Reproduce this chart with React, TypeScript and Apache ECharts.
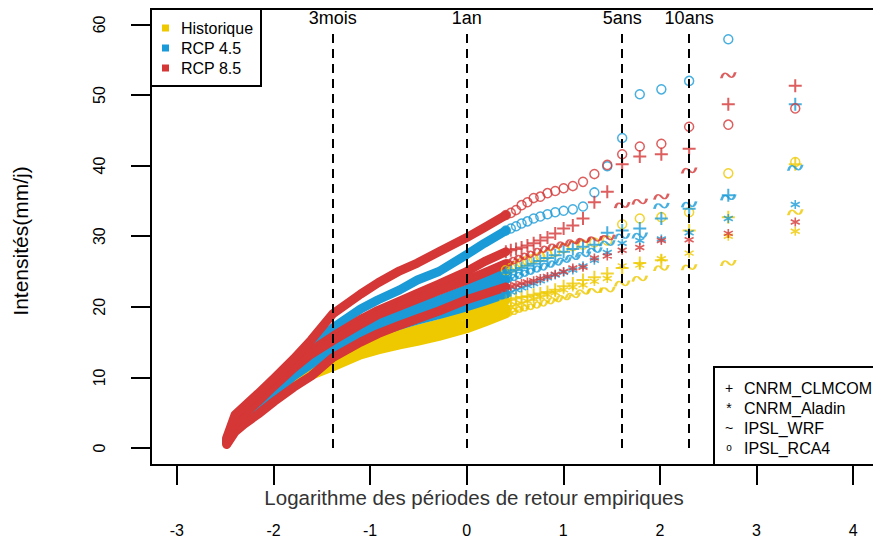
import React, { useEffect, useRef } from "react";
import * as echarts from "echarts";

// ---- data ----
const N_YEARS = 30; // empirical return period T = N_YEARS / rank
const TOP_RANKS = [1, 2, 3, 4, 5, 6, 7, 8, 9, 10, 11, 12, 13, 14, 15, 16, 17, 18, 19, 20];
const BAND_RANKS = [20, 25, 30, 40, 50, 60, 75, 90, 120, 150, 180, 220, 260, 300, 330, 360];

const SCENARIOS = ["Historique", "RCP 4.5", "RCP 8.5"];
const MODELS = ["CNRM_CLMCOM", "CNRM_Aladin", "IPSL_WRF", "IPSL_RCA4"];
const MODEL_CHARS = ["+", "*", "~", "o"];

// Historique
const histClmcomTop = [40.2, 32.7, 30.8, 26.6, 26.2, 25.5, 24.7, 24.2, 23.8, 23.3, 22.9, 22.4, 22.1, 21.9, 21.7, 21.5, 21.4, 21.2, 21.0, 20.9];
const histClmcomBand = [20.9, 19.8, 18.9, 17.6, 16.8, 16.1, 15.1, 14.2, 12.6, 11.1, 9.6, 7.4, 5.6, 4.0, 2.8, 0.7];
const histAladinTop = [30.7, 30.0, 27.6, 26.8, 25.9, 25.8, 24.0, 23.6, 23.1, 22.8, 22.4, 22.0, 21.7, 21.4, 21.1, 20.8, 20.5, 20.3, 20.0, 19.8];
const histAladinBand = [19.8, 18.6, 17.6, 16.6, 15.9, 15.3, 14.5, 13.8, 12.2, 10.8, 9.4, 7.3, 5.5, 3.9, 2.7, 0.6];
const histWrfTop = [33.4, 26.2, 25.6, 25.5, 24.0, 23.3, 22.4, 22.3, 22.1, 21.6, 21.3, 21.0, 20.7, 20.4, 20.1, 19.9, 19.7, 19.5, 19.2, 19.0];
const histWrfBand = [19.0, 17.8, 16.9, 15.8, 15.1, 14.6, 13.9, 13.2, 11.5, 10.3, 9.0, 7.0, 5.3, 3.8, 2.6, 0.7];
const histRca4Top = [40.5, 38.9, 33.4, 32.7, 32.5, 31.7, 29.4, 29.1, 28.8, 28.6, 28.3, 27.8, 27.4, 27.1, 26.8, 26.5, 26.2, 25.8, 25.5, 25.2];
const histRca4Band = [25.2, 23.8, 22.4, 20.6, 19.4, 18.5, 17.2, 16.0, 14.0, 12.2, 10.5, 8.2, 6.2, 4.5, 3.2, 0.9];

// RCP 4.5
const rcp45ClmcomTop = [48.7, 35.8, 33.9, 32.5, 31.1, 30.8, 30.5, 28.8, 28.5, 28.2, 27.8, 27.3, 26.9, 26.5, 26.1, 25.8, 25.5, 25.2, 25.0, 24.8];
const rcp45ClmcomBand = [24.8, 23.6, 22.5, 21.0, 20.0, 19.1, 17.9, 16.7, 14.8, 12.9, 11.0, 8.6, 6.5, 4.8, 3.5, 1.0];
const rcp45AladinTop = [34.5, 32.5, 30.5, 29.6, 29.4, 29.0, 27.7, 26.6, 25.8, 25.2, 24.9, 24.5, 24.1, 23.7, 23.3, 23.0, 22.7, 22.4, 22.1, 21.8];
const rcp45AladinBand = [21.8, 20.8, 20.0, 18.9, 18.1, 17.4, 16.4, 15.4, 13.6, 11.9, 10.2, 7.9, 6.0, 4.3, 3.0, 0.8];
const rcp45WrfTop = [39.7, 35.5, 34.5, 34.3, 30.1, 30.0, 29.0, 28.0, 27.4, 27.0, 26.6, 26.2, 25.9, 25.5, 25.2, 24.9, 24.6, 24.3, 24.0, 23.8];
const rcp45WrfBand = [23.8, 22.6, 21.6, 20.3, 19.3, 18.5, 17.3, 16.1, 14.2, 12.4, 10.6, 8.2, 6.2, 4.5, 3.2, 0.9];
const rcp45Rca4Top = [null, 57.9, 52.0, 50.8, 50.1, 43.9, 39.9, 36.2, 34.2, 33.8, 33.6, 33.4, 33.1, 32.8, 32.5, 32.1, 31.8, 31.4, 31.1, 30.8];
const rcp45Rca4Band = [30.8, 29.0, 27.4, 25.0, 23.8, 22.4, 21.0, 19.7, 17.0, 14.2, 12.0, 9.4, 7.2, 5.4, 4.2, 1.2];

// RCP 8.5
const rcp85ClmcomTop = [51.3, 48.7, 42.4, 41.6, 41.3, 40.2, 36.3, 34.8, 32.5, 31.5, 31.1, 30.4, 29.8, 29.4, 29.0, 28.7, 28.4, 28.2, 28.0, 27.8];
const rcp85ClmcomBand = [27.8, 26.4, 25.0, 23.2, 21.9, 20.8, 19.5, 18.2, 15.8, 13.8, 11.7, 9.2, 7.0, 5.2, 4.0, 1.0];
const rcp85AladinTop = [32.0, 30.4, 29.5, 29.4, 28.4, 28.0, 27.2, 26.9, 25.6, 25.5, 25.0, 24.6, 24.3, 24.0, 23.7, 23.5, 23.3, 23.1, 22.9, 22.8];
const rcp85AladinBand = [22.8, 21.8, 21.0, 19.4, 18.3, 17.4, 16.2, 15.0, 12.8, 10.2, 8.6, 6.6, 4.8, 3.4, 2.3, 0.5];
const rcp85WrfTop = [null, 52.8, 39.3, 35.6, 34.9, 34.4, 29.8, 29.6, 29.4, 29.2, 28.9, 28.6, 28.3, 28.0, 27.6, 27.3, 27.0, 26.7, 26.4, 26.1];
const rcp85WrfBand = [26.1, 24.8, 23.8, 22.3, 21.1, 20.1, 18.9, 17.5, 15.2, 13.3, 11.3, 8.8, 6.6, 4.8, 3.4, 0.8];
const rcp85Rca4Top = [48.1, 45.8, 45.5, 43.1, 42.7, 41.6, 40.1, 38.8, 37.7, 37.1, 36.8, 36.4, 36.1, 35.6, 35.4, 34.8, 34.4, 33.7, 33.3, 33.0];
const rcp85Rca4Band = [33.0, 31.2, 29.8, 27.8, 26.2, 25.1, 23.4, 21.8, 19.0, 15.3, 12.6, 9.9, 7.7, 5.9, 4.7, 1.4];

// reference return periods (years) for vertical lines
const REF_PERIODS = [0.25, 1, 5, 10];
const REF_LABELS = ["3mois", "1an", "5ans", "10ans"];

const X_TICKS_MIN = -3;
const X_TICKS_MAX = 4;
const Y_TICKS_MIN = 0;
const Y_TICKS_MAX = 60;

// ---- styling ----
const COLORS = ["#EEC900", "#1A9BD7", "#D53636"];
const FONT = "'Liberation Sans', Arial, Helvetica, sans-serif";

const SYMBOLS = [
  { symbol: "path://M6,0L6,12M0,6L12,6", size: 13, width: 2 },
  { symbol: "path://M5,0L5,10M0.67,2.5L9.33,7.5M0.67,7.5L9.33,2.5", size: 9, width: 1.6 },
  { symbol: "path://M0,5C1.5,1.5 4,0.5 7.5,3C11,5.5 13.5,4.5 15,1", size: [14, 6], width: 1.8 },
  { symbol: "circle", size: 9, width: 1.5 },
];

const TOPS = [
  [histClmcomTop, histAladinTop, histWrfTop, histRca4Top],
  [rcp45ClmcomTop, rcp45AladinTop, rcp45WrfTop, rcp45Rca4Top],
  [rcp85ClmcomTop, rcp85AladinTop, rcp85WrfTop, rcp85Rca4Top],
];
const BANDS = [
  [histClmcomBand, histAladinBand, histWrfBand, histRca4Band],
  [rcp45ClmcomBand, rcp45AladinBand, rcp45WrfBand, rcp45Rca4Band],
  [rcp85ClmcomBand, rcp85AladinBand, rcp85WrfBand, rcp85Rca4Band],
];

// pixel layout
const W = 873;
const PX_PER_X = 96.6;
const X0_PX = 466.7;
const PX_PER_Y = 7.06;
const Y0_PX = 448;
const BOX_LEFT = 151;
const BOX_TOP = 9;
const BOX_BOTTOM = 465;

const xOf = (r: number) => Math.log(N_YEARS / r);

function buildOption() {
  const series: any[] = [];
  const drawOrder = [0, 1, 2];
  // dense part of each curve (overlapping markers form a thick band)
  drawOrder.forEach((s) => {
    MODELS.forEach((m, mi) => {
      series.push({
        name: SCENARIOS[s] + " " + m + " band",
        type: "line",
        xAxisIndex: 0,
        yAxisIndex: 0,
        data: BAND_RANKS.map((r, i) => [xOf(r), BANDS[s][mi][i]]),
        symbol: "none",
        showSymbol: false,
        silent: true,
        lineStyle: { color: COLORS[s], width: 9, cap: "round", join: "round" },
        z: 2,
      });
    });
  });
  // individual points
  drawOrder.forEach((s) => {
    MODELS.forEach((m, mi) => {
      const sym = SYMBOLS[mi];
      series.push({
        name: SCENARIOS[s] + " " + m,
        type: "scatter",
        xAxisIndex: 0,
        yAxisIndex: 0,
        data: TOP_RANKS.map((r, i) => [xOf(r), TOPS[s][mi][i]]).filter((d) => d[1] !== null),
        symbol: sym.symbol,
        symbolSize: sym.size,
        symbolKeepAspect: false,
        silent: true,
        itemStyle: { color: "none", borderColor: COLORS[s], borderWidth: sym.width },
        z: 3,
      });
    });
  });
  // reference lines
  series.push({
    name: "refs",
    type: "line",
    xAxisIndex: 0,
    yAxisIndex: 0,
    data: [],
    silent: true,
    markLine: {
      silent: true,
      symbol: ["none", "none"],
      z: 10,
      lineStyle: { color: "#000", width: 2, type: [9, 6] },
      label: {
        show: true,
        position: "end",
        distance: 3,
        color: "#000",
        fontSize: 18,
        fontFamily: FONT,
      },
      data: REF_PERIODS.map((T, i) => [
        { coord: [Math.log(T), 0], label: { formatter: REF_LABELS[i] } },
        { coord: [Math.log(T), 59.2] },
      ]),
    },
  });

  const xMin = (BOX_LEFT - X0_PX) / PX_PER_X;
  const xMax = (W - X0_PX) / PX_PER_X;
  const yMin = (Y0_PX - BOX_BOTTOM) / PX_PER_Y;
  const yMax = (Y0_PX - BOX_TOP) / PX_PER_Y;

  const xTickLeft = X0_PX + X_TICKS_MIN * PX_PER_X;
  const xTickRight = X0_PX + X_TICKS_MAX * PX_PER_X;
  const yTickTop = Y0_PX - Y_TICKS_MAX * PX_PER_Y;

  const graphic: any[] = [];
  // plot box (its right side lies beyond the picture)
  graphic.push({
    type: "polyline",
    z: 50,
    shape: { points: [[W + 20, BOX_TOP], [BOX_LEFT, BOX_TOP], [BOX_LEFT, BOX_BOTTOM], [W + 20, BOX_BOTTOM]] },
    style: { stroke: "#000", lineWidth: 2, fill: "none" },
  });
  // title (cut at top)
  graphic.push({
    type: "text",
    x: 516,
    y: -13,
    z: 100,
    style: {
      text: "2071-2100",
      font: "44px 'Liberation Mono', 'DejaVu Sans Mono', monospace",
      fill: "#000",
      align: "center",
      verticalAlign: "middle",
    },
  });
  // legend 1
  graphic.push({
    type: "rect",
    z: 100,
    shape: { x: BOX_LEFT, y: BOX_TOP, width: 110, height: 77 },
    style: { fill: "#fff", stroke: "#000", lineWidth: 2 },
  });
  SCENARIOS.forEach((name, i) => {
    const cy = 28 + i * 20;
    graphic.push({
      type: "rect",
      z: 101,
      shape: { x: 162, y: cy - 3.5, width: 7, height: 7 },
      style: { fill: COLORS[i] },
    });
    graphic.push({
      type: "text",
      z: 101,
      x: 181,
      y: cy,
      style: { text: name, font: "16px " + FONT, fill: "#000", verticalAlign: "middle" },
    });
  });
  // legend 2
  graphic.push({
    type: "rect",
    z: 100,
    shape: { x: 714, y: 367, width: 200, height: 98 },
    style: { fill: "#fff", stroke: "#000", lineWidth: 2 },
  });
  MODELS.forEach((name, i) => {
    const cy = 388 + i * 20;
    graphic.push({
      type: "text",
      z: 101,
      x: 729,
      y: i === 3 ? cy - 1 : cy,
      style: {
        text: MODEL_CHARS[i],
        font: (i === 3 ? "10px " : "14px ") + FONT,
        fill: "#000",
        align: "center",
        verticalAlign: "middle",
      },
    });
    graphic.push({
      type: "text",
      z: 101,
      x: 744,
      y: cy,
      style: { text: name, font: "16px " + FONT, fill: "#000", verticalAlign: "middle" },
    });
  });
  // axis titles
  graphic.push({
    type: "text",
    z: 100,
    x: 474,
    y: 497,
    style: {
      text: "Logarithme des périodes de retour empiriques",
      font: "20.5px " + FONT,
      fill: "#333",
      align: "center",
      verticalAlign: "middle",
    },
  });
  graphic.push({
    type: "text",
    z: 100,
    x: 20,
    y: 241,
    rotation: Math.PI / 2,
    style: {
      text: "Intensités(mm/j)",
      font: "21px " + FONT,
      fill: "#000",
      align: "center",
      verticalAlign: "middle",
    },
  });

  return {
    animation: false,
    backgroundColor: "#fff",
    textStyle: { fontFamily: FONT },
    grid: [
      {
        left: BOX_LEFT,
        top: BOX_TOP,
        width: W - BOX_LEFT,
        height: BOX_BOTTOM - BOX_TOP,
        show: false,
      },
      {
        left: xTickLeft,
        top: BOX_TOP,
        width: xTickRight - xTickLeft,
        height: BOX_BOTTOM - BOX_TOP,
      },
      {
        left: BOX_LEFT,
        top: yTickTop,
        width: 100,
        height: Y0_PX - yTickTop,
      },
    ],
    xAxis: [
      { gridIndex: 0, type: "value", min: xMin, max: xMax, show: false },
      {
        gridIndex: 1,
        type: "value",
        min: X_TICKS_MIN,
        max: X_TICKS_MAX,
        interval: 1,
        axisLine: { show: false },
        axisTick: { show: true, length: 20, lineStyle: { color: "#000", width: 2 } },
        axisLabel: { margin: 57, fontSize: 16, color: "#000", fontFamily: FONT },
        splitLine: { show: false },
      },
      { gridIndex: 2, type: "value", min: 0, max: 1, show: false },
    ],
    yAxis: [
      { gridIndex: 0, type: "value", min: yMin, max: yMax, show: false },
      { gridIndex: 1, type: "value", min: 0, max: 1, show: false },
      {
        gridIndex: 2,
        type: "value",
        min: Y_TICKS_MIN,
        max: Y_TICKS_MAX,
        interval: 10,
        axisLine: { show: false },
        axisTick: { show: true, length: 20, lineStyle: { color: "#000", width: 2 } },
        axisLabel: { margin: 44, fontSize: 16, color: "#000", rotate: 90, fontFamily: FONT },
        splitLine: { show: false },
      },
    ],
    series,
    graphic,
  };
}

export default function App() {
  const ref = useRef<HTMLDivElement>(null);
  useEffect(() => {
    document.body.style.margin = "0";
    const chart = echarts.init(ref.current as HTMLDivElement, null, { renderer: "svg" });
    chart.setOption(buildOption() as any);
    return () => chart.dispose();
  }, []);
  return (
    <div
      ref={ref}
      style={{ position: "absolute", left: 0, top: 0, width: W, height: 540, overflow: "hidden" }}
    />
  );
}
